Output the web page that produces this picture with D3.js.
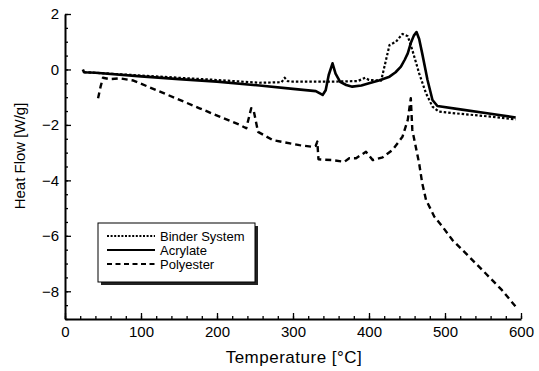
<!DOCTYPE html>
<html>
<head>
<meta charset="utf-8">
<script src="https://cdn.jsdelivr.net/npm/d3@7"></script>
<style>
  body { margin: 0; background: #fff; }
  svg { display: block; font-family: "Liberation Sans", Arial, Helvetica, sans-serif; }
</style>
</head>
<body>
<div id="app"></div>
<script>
// Binder System (dotted)
const binderT = [25, 40, 100, 150, 200, 256, 285, 289, 293, 300, 343, 352, 385, 391, 395, 400, 416, 427, 435.5, 444, 451, 457, 466, 475, 483.5, 492, 520, 560, 593];
const binderV = [-0.1, -0.12, -0.22, -0.3, -0.38, -0.48, -0.46, -0.3, -0.42, -0.44, -0.44, -0.44, -0.42, -0.35, -0.3, -0.38, -0.4, 0.88, 1.0, 1.28, 1.2, 0.7, -0.14, -0.86, -1.34, -1.52, -1.6, -1.7, -1.8];

// Acrylate (solid)
const acrylateT = [23.5, 25, 40, 100, 150, 200, 256, 300, 330, 339, 343, 347, 352, 356, 362, 370, 378, 390, 400, 413, 427, 435, 442, 447, 451, 455, 459, 462.5, 466, 470, 477, 483.5, 490, 520, 560, 593];
const acrylateV = [0, -0.1, -0.12, -0.25, -0.35, -0.44, -0.58, -0.7, -0.78, -0.92, -0.75, -0.2, 0.22, -0.15, -0.45, -0.56, -0.62, -0.58, -0.5, -0.4, -0.26, -0.1, 0.1, 0.35, 0.58, 0.95, 1.22, 1.35, 1.1, 0.58, -0.38, -1.1, -1.32, -1.44, -1.6, -1.73];

// Polyester (dashed)
const polyT = [43.5, 47, 50, 59, 72, 90, 125, 177, 230, 238.5, 245, 248, 254, 273.5, 308.5, 326, 330, 332, 333.5, 352, 367.6, 374, 383, 396, 405, 418, 431, 444, 451, 455, 457, 466, 470, 475, 486, 497, 510, 532, 553.6, 575, 595];
const polyV = [-1.04, -0.6, -0.3, -0.35, -0.32, -0.4, -0.8, -1.4, -2.0, -2.12, -1.4, -1.45, -2.25, -2.55, -2.73, -2.79, -2.75, -2.6, -3.24, -3.27, -3.33, -3.2, -3.2, -2.97, -3.27, -3.17, -2.9, -2.43, -1.82, -1.04, -2.18, -3.39, -4.1, -4.7, -5.31, -5.68, -6.16, -6.76, -7.36, -7.96, -8.62];

const xTicks = [0, 100, 200, 300, 400, 500, 600];
const yTicks = [2, 0, -2, -4, -6, -8];
const legendNames = ["Binder System", "Acrylate", "Polyester"];

const w = 539, h = 371;

const svg = d3.select("#app")
    .append("svg")
    .attr("width", w)
    .attr("height", h);

const x = d3.scaleLinear().domain([0, 600]).range([65, 521]);
const y = d3.scaleLinear().domain([-9, 2]).range([319, 14]);

const dashes = ["2.5,2", null, "6,4"];
const widths = [2.2, 2.6, 2.4];

const series = [
    binderT.map((t, i) => [t, binderV[i]]),
    acrylateT.map((t, i) => [t, acrylateV[i]]),
    polyT.map((t, i) => [t, polyV[i]])
];

const line = d3.line().x(d => x(d[0])).y(d => y(d[1]));

series.forEach((s, i) => {
    svg.append("path")
        .datum(s)
        .attr("fill", "none")
        .attr("stroke", "#000")
        .attr("stroke-width", widths[i])
        .attr("stroke-dasharray", dashes[i])
        .attr("stroke-linejoin", "round")
        .attr("d", line);
});

// minor ticks
svg.append("g")
    .attr("transform", `translate(0,${y(-9)})`)
    .call(d3.axisBottom(x).tickValues(d3.range(0, 601, 20)).tickSize(-3).tickFormat(""))
    .call(g => g.select(".domain").remove());
svg.append("g")
    .attr("transform", `translate(${x(0)},0)`)
    .call(d3.axisLeft(y).tickValues(d3.range(-9, 2.01, 0.5)).tickSize(-3).tickFormat(""))
    .call(g => g.select(".domain").remove());

// major axes
const xAxis = svg.append("g")
    .attr("transform", `translate(0,${y(-9)})`)
    .call(d3.axisBottom(x).tickValues(xTicks).tickSizeInner(-6).tickSizeOuter(0).tickPadding(7));
const yAxis = svg.append("g")
    .attr("transform", `translate(${x(0)},0)`)
    .call(d3.axisLeft(y).tickValues(yTicks).tickSizeInner(-6).tickSizeOuter(0).tickPadding(6));

[xAxis, yAxis].forEach(g => {
    g.select(".domain").attr("stroke-width", 2);
    g.selectAll("text").attr("font-size", 15).attr("font-family", "Liberation Sans, Arial, sans-serif").attr("fill", "#000");
});
svg.selectAll(".tick line").attr("stroke-width", 1.3);

svg.append("text")
    .attr("x", 294)
    .attr("y", 363)
    .attr("text-anchor", "middle")
    .attr("font-size", 17)
    .attr("letter-spacing", 0.5)
    .text("Temperature  [°C]");

svg.append("text")
    .attr("transform", "translate(25,156) rotate(-90)")
    .attr("text-anchor", "middle")
    .attr("font-size", 15)
    .text("Heat Flow [W/g]");

// legend
const lg = svg.append("g");
lg.append("rect").attr("x", 101).attr("y", 226).attr("width", 157).attr("height", 59).attr("fill", "#222");
lg.append("rect").attr("x", 98).attr("y", 223).attr("width", 157).attr("height", 59)
    .attr("fill", "#fff").attr("stroke", "#000").attr("stroke-width", 1);
legendNames.forEach((name, i) => {
    const yy = 236 + i * 14;
    lg.append("line")
        .attr("x1", 107).attr("x2", 155).attr("y1", yy).attr("y2", yy)
        .attr("stroke", "#000").attr("stroke-width", i === 1 ? 2 : 1.8)
        .attr("stroke-dasharray", i === 0 ? "2,1.6" : dashes[i] === null ? null : "5,3.5");
    lg.append("text")
        .attr("x", 160).attr("y", yy + 4.5)
        .attr("font-size", 13)
        .text(name);
});
</script>
</body>
</html>
